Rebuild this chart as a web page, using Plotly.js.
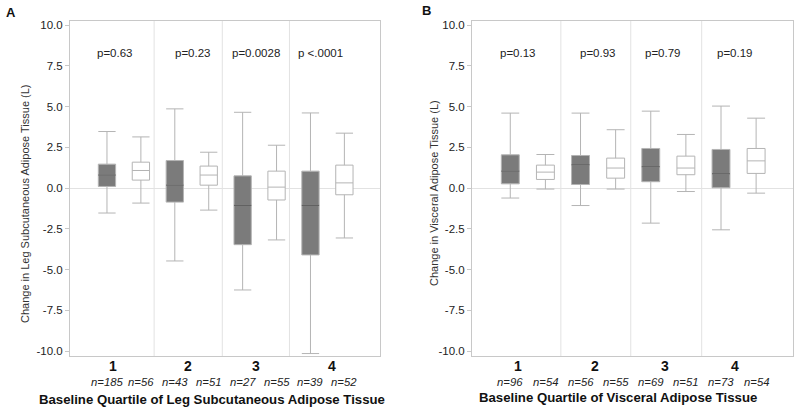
<!DOCTYPE html>
<html><head><meta charset="utf-8">
<script src="https://cdn.plot.ly/plotly-3.0.1.min.js"></script>
<style>html,body{margin:0;padding:0;background:#fff}</style>
</head><body><div id="chart" style="width:800px;height:412px"></div>
<script>
// ---- data ----
const quartiles = ['1', '2', '3', '4'];
const grayX = [1, 3, 5, 7];
const whiteX = [2, 4, 6, 8];

// Panel A: leg subcutaneous adipose tissue
const aGrayLow  = [-1.53, -4.47, -6.25, -10.15];
const aGrayQ1   = [0.10, -0.86, -3.47, -4.10];
const aGrayMed  = [0.80, 0.18, -1.06, -1.06];
const aGrayQ3   = [1.47, 1.69, 0.75, 1.04];
const aGrayHigh = [3.47, 4.86, 4.65, 4.61];
const aWhiteLow  = [-0.92, -1.35, -3.18, -3.06];
const aWhiteQ1   = [0.49, 0.18, -0.73, -0.41];
const aWhiteMed  = [1.08, 0.80, 0.06, 0.32];
const aWhiteQ3   = [1.59, 1.35, 1.04, 1.41];
const aWhiteHigh = [3.14, 2.20, 2.63, 3.37];
const aN = [185, 56, 43, 51, 27, 55, 39, 52];
const aP = ['p=0.63', 'p=0.23', 'p=0.0028', 'p <.0001'];

// Panel B: visceral adipose tissue
const bGrayLow  = [-0.61, -1.07, -2.15, -2.56];
const bGrayQ1   = [0.26, 0.22, 0.39, 0.02];
const bGrayMed  = [1.04, 1.43, 1.31, 0.88];
const bGrayQ3   = [2.04, 2.00, 2.43, 2.37];
const bGrayHigh = [4.60, 4.60, 4.72, 5.03];
const bWhiteLow  = [-0.06, -0.06, -0.21, -0.31];
const bWhiteQ1   = [0.53, 0.61, 0.82, 0.90];
const bWhiteMed  = [0.98, 1.23, 1.23, 1.67];
const bWhiteQ3   = [1.41, 1.84, 1.96, 2.43];
const bWhiteHigh = [2.06, 3.58, 3.29, 4.29];
const bN = [96, 54, 56, 55, 69, 51, 73, 54];
const bP = ['p=0.13', 'p=0.93', 'p=0.79', 'p=0.19'];

const yTicks = [-10, -7.5, -5, -2.5, 0, 2.5, 5, 7.5, 10];

// ---- layout helpers ----
const FONT = 'Liberation Sans, Arial, sans-serif';
const BW = 0.51;
const panels = [
  {xa: 'x', ya: 'y', gl: aGrayLow, gq1: aGrayQ1, gm: aGrayMed, gq3: aGrayQ3, gh: aGrayHigh,
   wl: aWhiteLow, wq1: aWhiteQ1, wm: aWhiteMed, wq3: aWhiteQ3, wh: aWhiteHigh,
   n: aN, p: aP, pPos: [1.24, 3.54, 5.40, 7.29], qPos: [1.18, 3.39, 5.40, 7.64],
   div: [2.39, 4.40, 6.38]},
  {xa: 'x2', ya: 'y2', gl: bGrayLow, gq1: bGrayQ1, gm: bGrayMed, gq3: bGrayQ3, gh: bGrayHigh,
   wl: bWhiteLow, wq1: bWhiteQ1, wm: bWhiteMed, wq3: bWhiteQ3, wh: bWhiteHigh,
   n: bN, p: bP, pPos: [1.22, 3.51, 5.36, 7.41], qPos: [1.21, 3.41, 5.40, 7.41],
   div: [2.44, 4.43, 6.45]}
];

const traces = [];
const annotations = [];
const shapes = [];
const C = {xanchor: 'center', yanchor: 'middle', showarrow: false};
panels.forEach(P => {
  traces.push({
    type: 'box', xaxis: P.xa, yaxis: P.ya, x: grayX,
    q1: P.gq1, median: P.gm, q3: P.gq3, lowerfence: P.gl, upperfence: P.gh,
    width: BW, whiskerwidth: 1, boxpoints: false,
    fillcolor: '#7b7b7b', line: {color: '#b4b4b4', width: 1}, hoverinfo: 'skip', showlegend: false
  });
  traces.push({
    type: 'box', xaxis: P.xa, yaxis: P.ya, x: whiteX,
    q1: P.wq1, median: P.wm, q3: P.wq3, lowerfence: P.wl, upperfence: P.wh,
    width: BW, whiskerwidth: 1, boxpoints: false,
    fillcolor: '#ffffff', line: {color: '#b4b4b4', width: 1}, hoverinfo: 'skip', showlegend: false
  });
  // darker median lines on the gray boxes
  const mx = [], my = [];
  grayX.forEach((x, i) => { mx.push(x - BW / 2, x + BW / 2, null); my.push(P.gm[i], P.gm[i], null); });
  traces.push({type: 'scatter', mode: 'lines', xaxis: P.xa, yaxis: P.ya, x: mx, y: my,
    line: {color: '#555555', width: 1}, hoverinfo: 'skip', showlegend: false});

  P.div.forEach(d => shapes.push({type: 'line', xref: P.xa, yref: P.ya + ' domain', x0: d, x1: d, y0: 0, y1: 1,
    line: {color: '#e2e2e2', width: 1}, layer: 'below'}));
  P.p.forEach((t, i) => annotations.push(Object.assign({xref: P.xa, yref: P.ya, x: P.pPos[i], y: 8.3, text: t,
    font: {family: FONT, size: 11.5, color: '#222'}}, C)));
  quartiles.forEach((q, i) => annotations.push(Object.assign({xref: P.xa, yref: 'paper', x: P.qPos[i], y: 1 - 365.5 / 412,
    text: '<b>' + q + '</b>', font: {family: FONT, size: 14, color: '#111'}}, C)));
  P.n.forEach((n, i) => annotations.push(Object.assign({xref: P.xa, yref: 'paper', x: i + 1, y: 1 - 381.5 / 412,
    text: '<i>n=' + n + '</i>', font: {family: FONT, size: 11.3, color: '#222'}}, C)));
});

annotations.push(
  Object.assign({xref: 'paper', yref: 'paper', x: 10.5 / 800, y: 1 - 13 / 412, text: '<b>A</b>',
   font: {family: FONT, size: 13, color: '#111'}}, C),
  Object.assign({xref: 'paper', yref: 'paper', x: 426 / 800, y: 1 - 11 / 412, text: '<b>B</b>',
   font: {family: FONT, size: 13, color: '#111'}}, C),
  Object.assign({xref: 'paper', yref: 'paper', x: 25 / 800, y: 1 - 204 / 412, textangle: -90,
   text: 'Change in Leg Subcutaneous Adipose Tissue (L)',
   font: {family: FONT, size: 11, color: '#333'}}, C),
  Object.assign({xref: 'paper', yref: 'paper', x: 434 / 800, y: 1 - 193 / 412, textangle: -90,
   text: 'Change in Visceral Adipose Tissue (L)',
   font: {family: FONT, size: 11, color: '#333'}}, C),
  Object.assign({xref: 'paper', yref: 'paper', x: 211.5 / 800, y: 1 - 399.5 / 412,
   text: '<b>Baseline Quartile of Leg Subcutaneous Adipose Tissue</b>',
   font: {family: FONT, size: 13.2, color: '#111'}}, C),
  Object.assign({xref: 'paper', yref: 'paper', x: 618 / 800, y: 1 - 397.5 / 412,
   text: '<b>Baseline Quartile of Visceral Adipose Tissue</b>',
   font: {family: FONT, size: 13.2, color: '#111'}}, C)
);

const yBase = {
  range: [-10.3, 10.25], tickvals: yTicks, ticktext: yTicks.map(v => v.toFixed(1)),
  showgrid: false, zeroline: true, zerolinecolor: '#e2e2e2', zerolinewidth: 1,
  showline: true, mirror: true, linecolor: '#c8c8c8', linewidth: 1,
  ticks: 'outside', ticklen: 4, tickcolor: '#c8c8c8',
  tickfont: {family: FONT, size: 11.5, color: '#222'}, fixedrange: true
};
const xBase = {
  range: [-0.09, 9.05], showticklabels: false, showgrid: false, zeroline: false,
  showline: true, mirror: true, linecolor: '#c8c8c8', linewidth: 1, ticks: '', fixedrange: true
};
const yDom = [(412 - 356) / 412, (412 - 21) / 412];

const layout = {
  width: 800, height: 412, margin: {l: 0, r: 0, t: 0, b: 0},
  paper_bgcolor: '#fff', plot_bgcolor: '#fff', showlegend: false,
  boxmode: 'overlay',
  xaxis: Object.assign({}, xBase, {domain: [70 / 800, 380 / 800], anchor: 'y'}),
  yaxis: Object.assign({}, yBase, {domain: yDom, anchor: 'x'}),
  xaxis2: Object.assign({}, xBase, {domain: [472 / 800, 793 / 800], anchor: 'y2'}),
  yaxis2: Object.assign({}, yBase, {domain: yDom, anchor: 'x2'}),
  annotations: annotations, shapes: shapes
};

Plotly.newPlot('chart', traces, layout, {displayModeBar: false, staticPlot: true});
</script></body></html>
